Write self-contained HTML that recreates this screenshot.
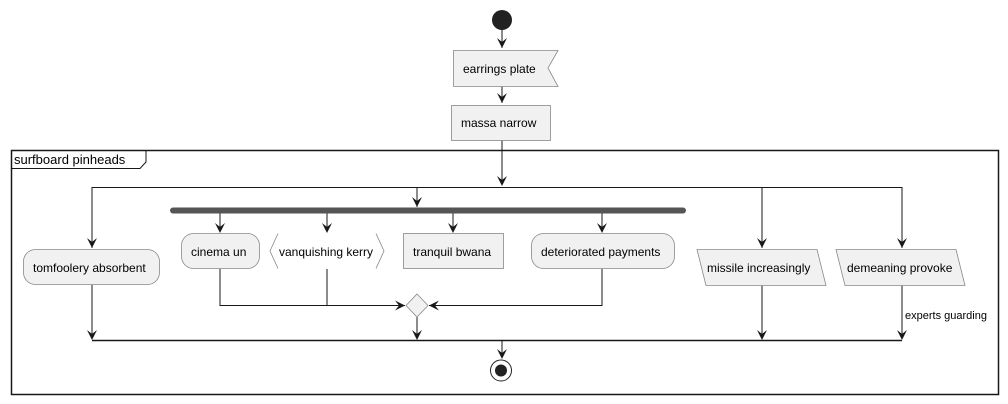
<!DOCTYPE html>
<html><head><meta charset="utf-8"><style>
html,body{margin:0;padding:0;background:#fff;width:1008px;height:404px;overflow:hidden}
text{font-family:"Liberation Sans",sans-serif;font-size:12px;fill:#000}
</style></head><body>
<svg width="1008" height="404" viewBox="0 0 1008 404" xmlns="http://www.w3.org/2000/svg">
<g fill="none" stroke="#181818" stroke-width="1">
<!-- frame -->
<rect x="11.5" y="150.5" width="987" height="244" stroke-width="1.5"/>
<path d="M11.5,168.5 H140 L146,162 V150.5"/>
<!-- top lines -->
<line x1="502" y1="30" x2="502" y2="48"/>
<line x1="502" y1="86" x2="502" y2="103"/>
<line x1="502" y1="140" x2="502" y2="185"/>
<line x1="92" y1="187.5" x2="902" y2="187.5"/>
<line x1="92" y1="187" x2="92" y2="248"/>
<line x1="417" y1="187" x2="417" y2="207"/>
<line x1="762" y1="187" x2="762" y2="248"/>
<line x1="902" y1="187" x2="902" y2="248"/>
<line x1="220" y1="213" x2="220" y2="232"/>
<line x1="327" y1="213" x2="327" y2="232"/>
<line x1="453" y1="213" x2="453" y2="232"/>
<line x1="602" y1="213" x2="602" y2="232"/>
<!-- to merge -->
<path d="M220,269 V305.5 H405"/>
<line x1="327" y1="269" x2="327" y2="305"/>
<path d="M602,269 V305.5 H429"/>
<line x1="417" y1="317" x2="417" y2="339"/>
<line x1="92" y1="285" x2="92" y2="339"/>
<line x1="762" y1="285" x2="762" y2="339"/>
<line x1="902" y1="285" x2="902" y2="339"/>
<line x1="92" y1="340.5" x2="902" y2="340.5" stroke-width="1.5"/>
<line x1="502" y1="341" x2="502" y2="358"/>
</g>
<!-- arrowheads -->
<g fill="#181818">
<path d="M497,38 L502,48 L507,38 L502,42Z"/>
<path d="M497,93 L502,103 L507,93 L502,97Z"/>
<path d="M497,176 L502,186 L507,176 L502,180Z"/>
<path d="M87,238 L92,248 L97,238 L92,242Z"/>
<path d="M412,197 L417,207 L422,197 L417,201Z"/>
<path d="M757,238 L762,248 L767,238 L762,242Z"/>
<path d="M897,238 L902,248 L907,238 L902,242Z"/>
<path d="M215,223 L220,233 L225,223 L220,227Z"/>
<path d="M322,223 L327,233 L332,223 L327,227Z"/>
<path d="M448,223 L453,233 L458,223 L453,227Z"/>
<path d="M597,223 L602,233 L607,223 L602,227Z"/>
<path d="M395,300.5 L405,305.5 L395,310.5 L399,305.5Z"/>
<path d="M439,300.5 L429,305.5 L439,310.5 L435,305.5Z"/>
<path d="M412,330 L417,340 L422,330 L417,334Z"/>
<path d="M87,330 L92,340 L97,330 L92,334Z"/>
<path d="M757,330 L762,340 L767,330 L762,334Z"/>
<path d="M897,330 L902,340 L907,330 L902,334Z"/>
<path d="M497,349 L502,359 L507,349 L502,353Z"/>
</g>
<circle cx="502" cy="20" r="10" fill="#222"/>
<circle cx="501" cy="370.5" r="10.5" fill="none" stroke="#222" stroke-width="1"/>
<circle cx="501" cy="370.5" r="6" fill="#222"/>
<!-- fork bar -->
<rect x="170" y="207.5" width="516" height="6" rx="3" fill="#555"/>
<!-- nodes -->
<g fill="#f1f1f1" stroke="#888" stroke-width="0.8">
<path d="M453.5,50.5 H558 L548,68 L558,86.5 H453.5Z"/>
<rect x="451.5" y="105.5" width="99" height="35"/>
<rect x="23.5" y="249.5" width="136" height="35" rx="12"/>
<rect x="181.5" y="233.5" width="78" height="35" rx="12"/>
<rect x="403.5" y="233.5" width="100" height="35"/>
<rect x="531.5" y="233.5" width="143" height="35" rx="12"/>
<path d="M697,249.5 H817 L826,285.5 H706Z"/>
<path d="M836,249.5 H956 L965,285.5 H845Z"/>
<path d="M417,294 L428,305.5 L417,317 L406,305.5Z"/>
</g>
<path d="M278,233.5 L270,251 L278,268.5 M376,233.5 L384,251 L376,268.5" fill="none" stroke="#888" stroke-width="0.8"/>
<!-- texts -->
<text x="463" y="73">earrings plate</text>
<text x="461" y="127">massa narrow</text>
<text x="14" y="164" style="font-size:13px">surfboard pinheads</text>
<text x="33" y="272">tomfoolery absorbent</text>
<text x="191" y="256">cinema un</text>
<text x="279" y="256">vanquishing kerry</text>
<text x="413" y="256">tranquil bwana</text>
<text x="541" y="256">deteriorated payments</text>
<text x="707" y="272">missile increasingly</text>
<text x="847" y="272">demeaning provoke</text>
<text x="905" y="319" style="font-size:11px">experts guarding</text>
</svg>
</body></html>
